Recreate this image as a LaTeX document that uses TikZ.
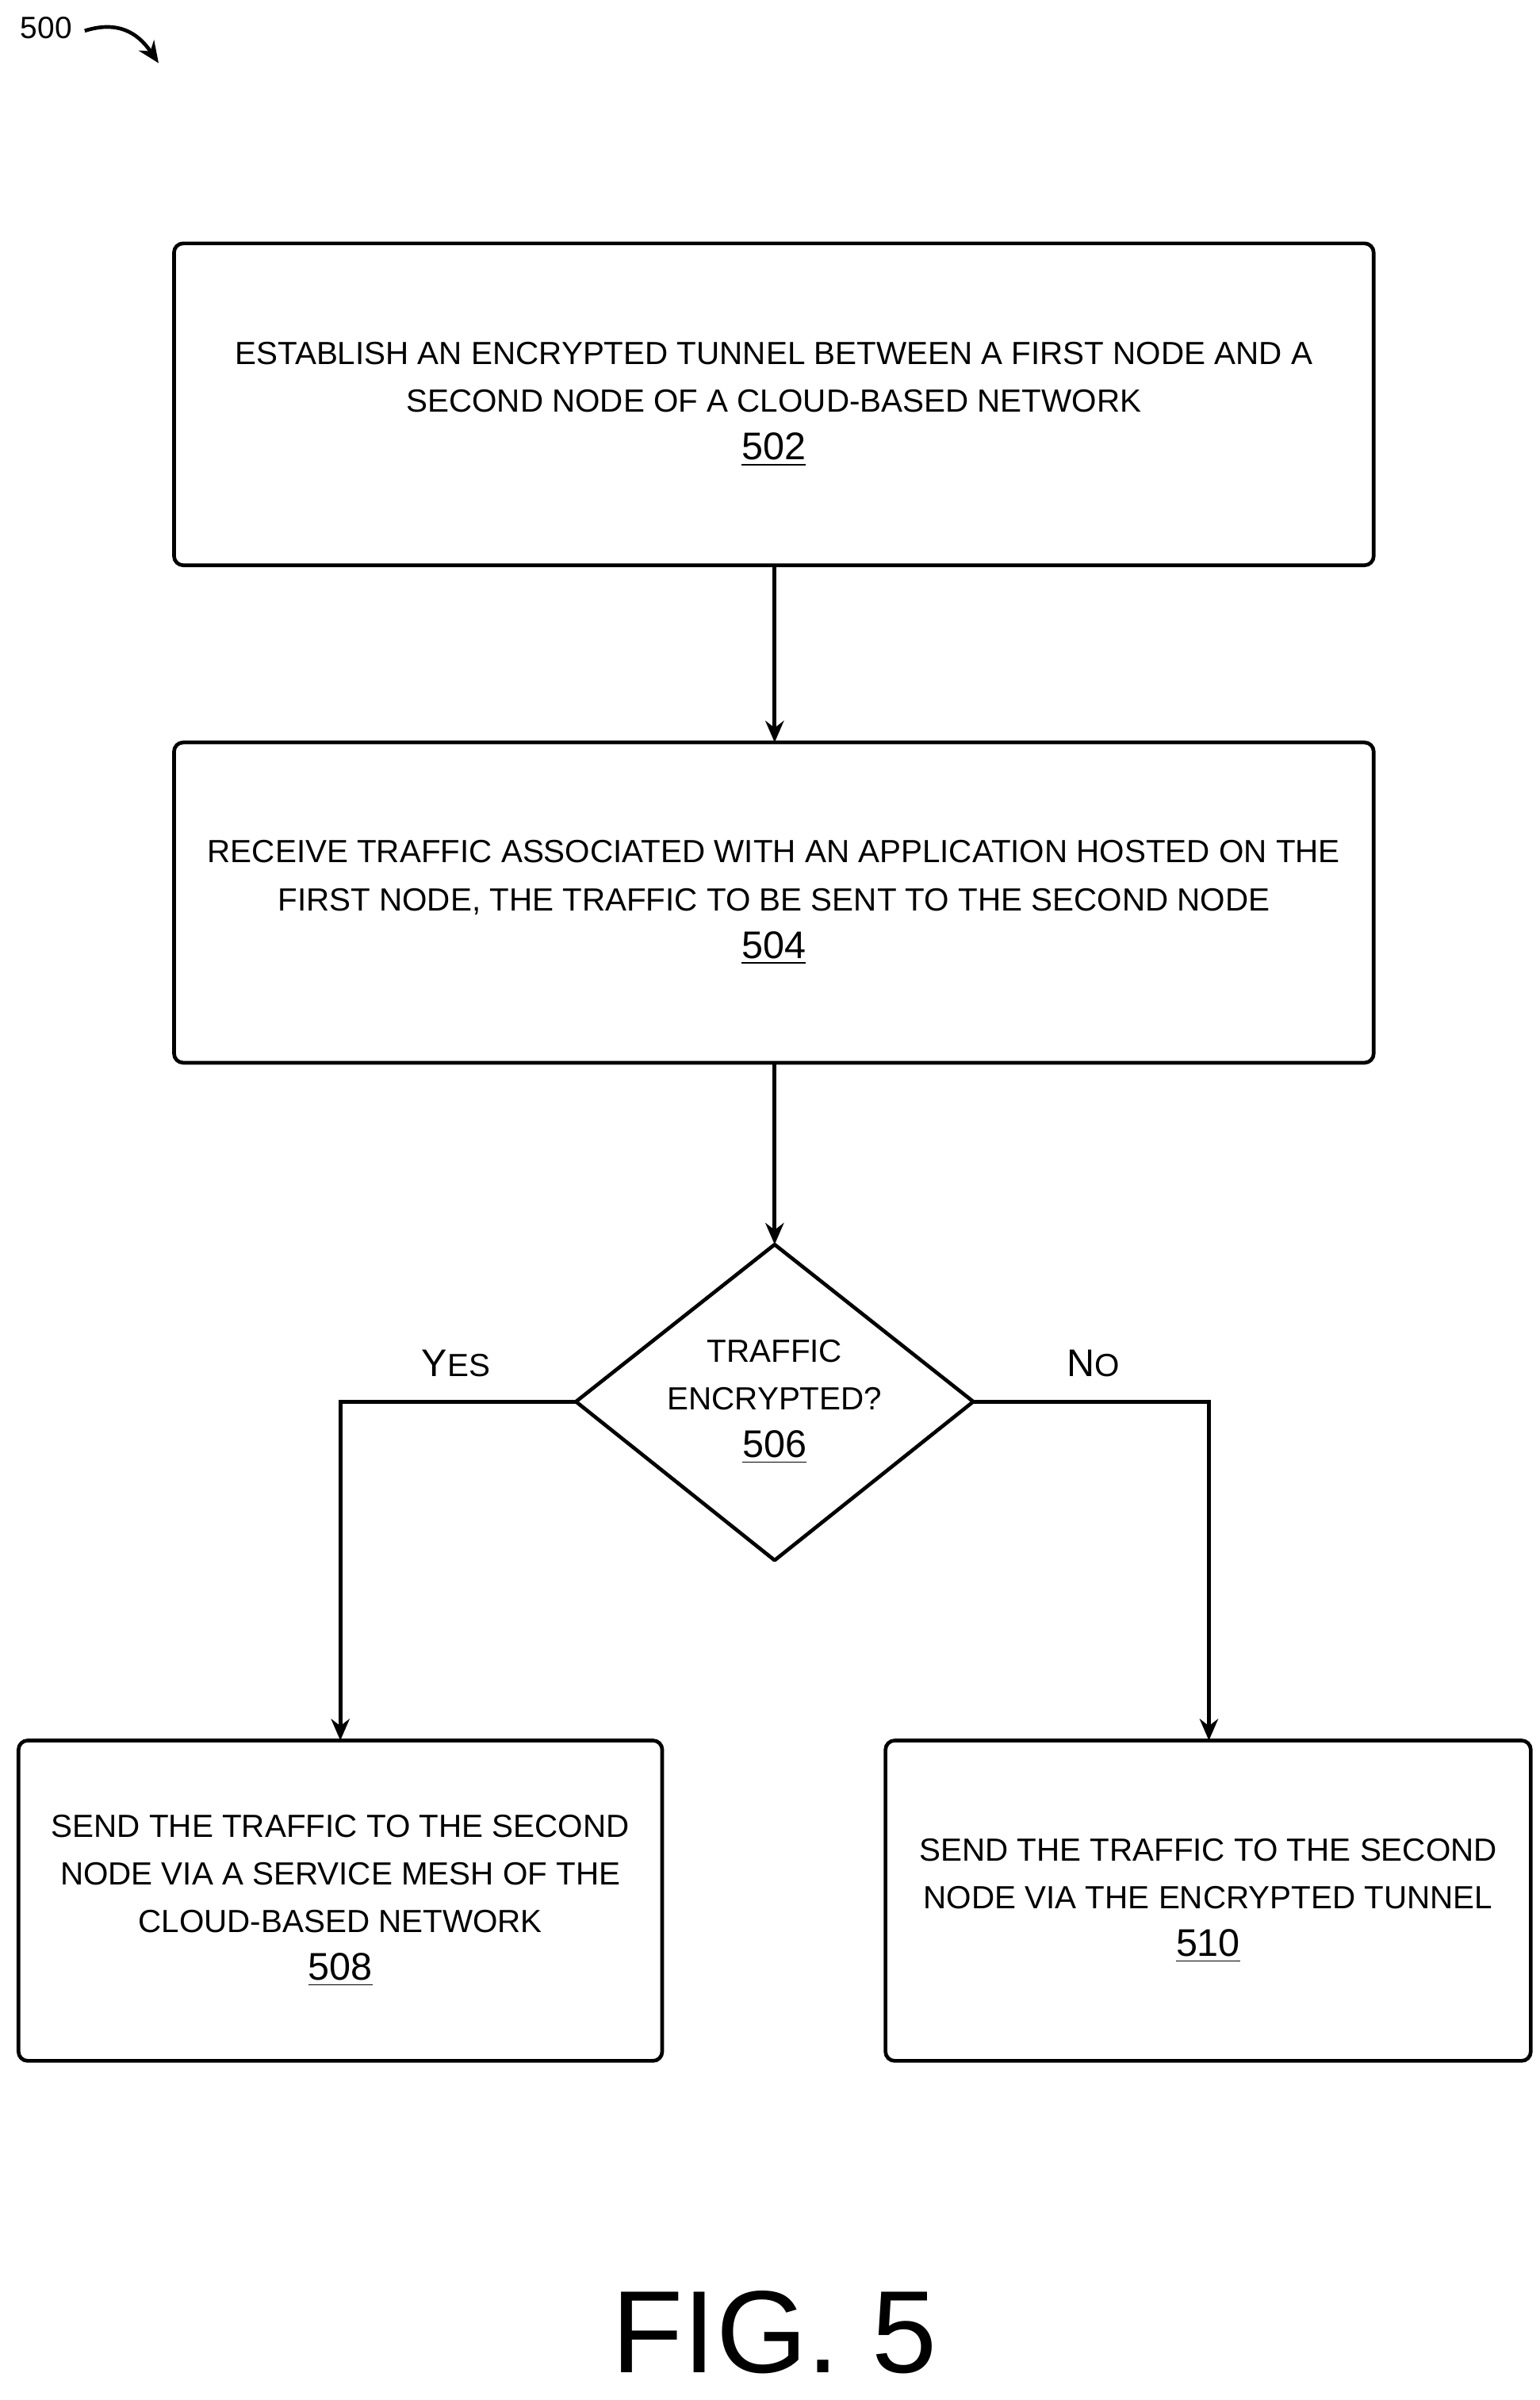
\documentclass[tikz,border=0pt]{standalone}
\usepackage{fontspec}
\setmainfont{Liberation Sans}
\usetikzlibrary{shapes.geometric,arrows.meta}
\begin{document}
\begin{tikzpicture}[x=0.5pt,y=-0.5pt,
  box/.style={draw,line width=1.2pt,rounded corners=3pt},
  txt/.style={align=center,font=\fontsize{10.4}{15.5}\selectfont},
  arr/.style={line width=1.2pt,-{Stealth[length=7pt,width=6pt]}}]
\useasboundingbox (0,0) rectangle (1000,1558.2);
\newcommand{\nm}[1]{{\fontsize{12.5}{15.5}\selectfont\underline{#1}}}
\draw[box] (113,158) rectangle (892,367);
\node[txt] (t502) at (502.5,262.5) {ESTABLISH AN ENCRYPTED TUNNEL BETWEEN A FIRST NODE AND A\\SECOND NODE OF A CLOUD-BASED NETWORK\\\nm{502}};
\coordinate (b502) at (503,367);
\draw[box] (113,482) rectangle (892,690);
\node[txt] (t504) at (502.5,586) {RECEIVE TRAFFIC ASSOCIATED WITH AN APPLICATION HOSTED ON THE\\FIRST NODE, THE TRAFFIC TO BE SENT TO THE SECOND NODE\\\nm{504}};
\coordinate (a504) at (503,482);
\coordinate (b504) at (503,690);
\draw[line width=1.2pt,line join=round] (503,808) -- (632,910) -- (503,1013) -- (374,910) -- cycle;
\node[txt] (t506) at (503,910) {TRAFFIC\\ENCRYPTED?\\\nm{506}};
\coordinate (d0) at (503,808);
\coordinate (dl) at (374,910);
\coordinate (dr) at (632,910);
\draw[box] (12,1130) rectangle (430,1338);
\node[txt] (t508) at (221,1234) {SEND THE TRAFFIC TO THE SECOND\\NODE VIA A SERVICE MESH OF THE\\CLOUD-BASED NETWORK\\\nm{508}};
\draw[box] (575,1130) rectangle (994,1338);
\node[txt] (t510) at (784.5,1234) {SEND THE TRAFFIC TO THE SECOND\\NODE VIA THE ENCRYPTED TUNNEL\\\nm{510}};
\coordinate (a508) at (221,1130);
\coordinate (a510) at (785,1130);
\draw[arr] (b502) -- (a504);
\draw[arr] (b504) -- (d0);
\draw[arr] (dl) -| (a508);
\draw[arr] (dr) -| (a510);
\node[font=\fontsize{12.5}{14}\selectfont] (yes) at (296,885) {Y{\fontsize{10.4}{14}\selectfont ES}};
\node[font=\fontsize{12.5}{14}\selectfont] (no) at (710,885) {N{\fontsize{10.4}{14}\selectfont O}};
\node[font=\fontsize{10}{12}\selectfont] (n500) at (30,18) {500};
\coordinate (e500) at (103,41);
\draw[line width=1.2pt,-{Stealth[length=7pt,width=6pt]}] (55,20) .. controls (80,12) and (92,25) .. (e500);
\node[font=\fontsize{38}{40}\selectfont] (fig) at (503,1514) {FIG. 5};
\end{tikzpicture}
\end{document}
